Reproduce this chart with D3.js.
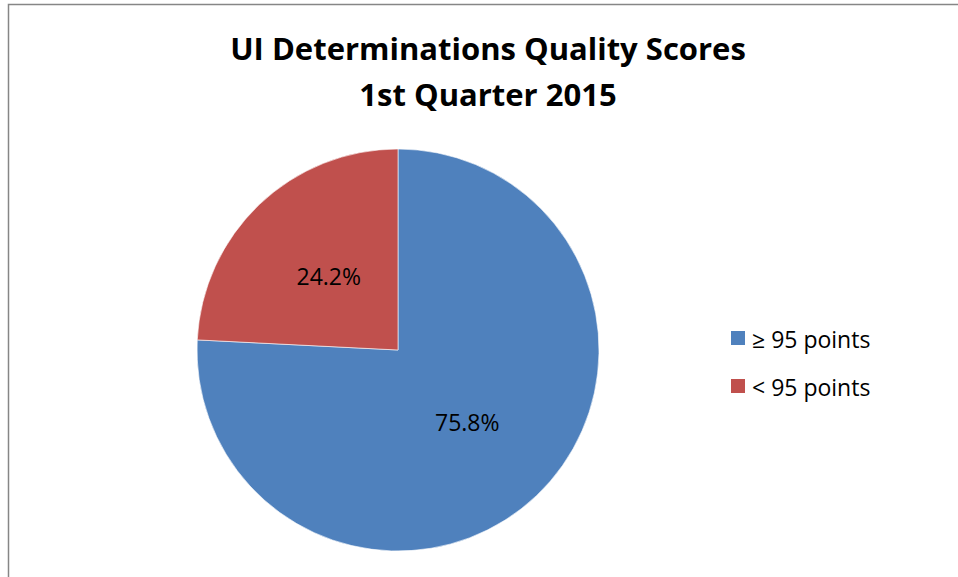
<!DOCTYPE html>
<html>
<head>
<meta charset="utf-8">
<script src="https://cdn.jsdelivr.net/npm/d3@7"></script>
<style>
  body { margin: 0; background: #fff; }
  svg { display: block; font-family: "Open Sans", "Noto Sans", sans-serif; }
</style>
</head>
<body>
<svg id="chart" width="958" height="577"></svg>
<script>
var titleLines = ["UI Determinations Quality Scores", "1st Quarter 2015"];
var categories = ["\u2265 95 points", "< 95 points"];
var shares = [75.8, 24.2];
var colors = ["#4f81bd", "#c0504d"];

const svg = d3.select("#chart");

// outer frame (right and bottom edges fall off the picture)
svg.append("rect")
  .attr("x", 8.5).attr("y", 4.5)
  .attr("width", 1000).attr("height", 700)
  .attr("fill", "none")
  .attr("stroke", "#868686")
  .attr("stroke-width", 1.5);

svg.selectAll(".title")
  .data(titleLines)
  .enter().append("text")
  .attr("class", "title")
  .attr("x", 488)
  .attr("y", (d, i) => 60 + i * 46)
  .attr("text-anchor", "middle")
  .attr("font-size", 31)
  .attr("font-weight", "bold")
  .attr("fill", "#000")
  .text(d => d);

const cx = 398, cy = 350, radius = 201;
const data = categories.map((c, i) => ({name: c, value: shares[i]}));

const pie = d3.pie().value(d => d.value).sort(null);
const arc = d3.arc().innerRadius(0).outerRadius(radius);

const g = svg.append("g").attr("transform", `translate(${cx},${cy})`);

g.selectAll("path")
  .data(pie(data))
  .enter().append("path")
  .attr("d", arc)
  .attr("fill", (d, i) => colors[i])
  .attr("stroke", "#fff")
  .attr("stroke-width", 0.6);

g.selectAll(".lbl")
  .data(pie(data))
  .enter().append("text")
  .attr("class", "lbl")
  .attr("transform", d => `translate(${arc.centroid(d)})`)
  .attr("text-anchor", "middle")
  .attr("dy", "0.36em")
  .attr("font-size", 23)
  .attr("fill", "#000")
  .text(d => d.data.value.toFixed(1) + "%");

const legend = svg.append("g").attr("transform", "translate(731,331)");
const item = legend.selectAll("g")
  .data(data)
  .enter().append("g")
  .attr("transform", (d, i) => `translate(0,${i * 48})`);
item.append("rect")
  .attr("width", 14).attr("height", 14)
  .attr("fill", (d, i) => colors[i]);
item.append("text")
  .attr("x", 21).attr("y", 17)
  .attr("font-size", 23)
  .attr("fill", "#000")
  .text(d => d.name);
</script>
</body>
</html>
